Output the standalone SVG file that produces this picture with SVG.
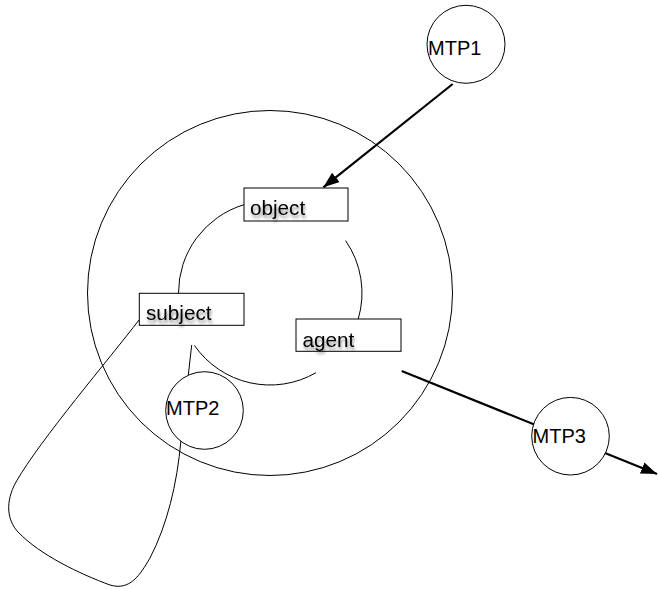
<svg xmlns="http://www.w3.org/2000/svg" width="658" height="589" viewBox="0 0 658 589">
  <defs>
    <marker id="arrow" markerUnits="userSpaceOnUse" markerWidth="18" markerHeight="14" refX="16" refY="6" orient="auto">
      <path d="M0,0 L16,6 L0,12 Z" fill="#000"/>
    </marker>
    <filter id="shadow" x="-20%" y="-30%" width="140%" height="180%">
      <feDropShadow dx="1" dy="3" stdDeviation="1.6" flood-color="#000" flood-opacity="0.45"/>
    </filter>
  </defs>
  <style>
    .line { fill: none; stroke: #000; stroke-width: 1; }
    .thick { fill: none; stroke: #000; stroke-width: 2.2; }
    .box { fill: #fff; stroke: #000; stroke-width: 1; }
    .mtp { fill: #fff; stroke: #000; stroke-width: 1; }
    .lbl { font-family: "Liberation Sans", Arial, sans-serif; font-size: 20px; fill: #000; }
    .boxlbl { font-size: 20.7px; filter: url(#shadow); }
  </style>

  <g id="outer-circle">
    <circle cx="270" cy="293" r="182.5" class="line"/>
  </g>

  <g id="connectors">
    <path class="line" d="M244,204.7 A92,92 0 0 0 178.5,293.5"/>
    <path class="line" d="M194.4,345.4 A92,92 0 0 0 316,372.7"/>
    <path class="line" d="M358.2,319.1 A92,92 0 0 0 345.6,240.6"/>
    <path class="line" d="M191.7,345 L188.3,375"/>
    <path class="line" d="M139,320 C110,358 40,440 16,482 C5,502 7,520 18,532 C40,555 80,574 110,585 C130,591 140,575 150,558 C167,525 177,485 181,440"/>
    <path class="thick" d="M452.7,84 L323.3,187.3" marker-end="url(#arrow)"/>
    <path class="thick" d="M401.7,371 L657,474" marker-end="url(#arrow)"/>
  </g>

  <g id="object">
    <rect x="244" y="188" width="104" height="33" class="box"/>
    <text x="250" y="215" class="lbl boxlbl">object</text>
  </g>

  <g id="subject">
    <rect x="139.3" y="293.3" width="104.7" height="32" class="box"/>
    <text x="146" y="320" class="lbl boxlbl">subject</text>
  </g>

  <g id="agent">
    <rect x="296" y="319" width="105" height="32.3" class="box"/>
    <text x="302.5" y="346.5" class="lbl boxlbl">agent</text>
  </g>

  <g id="MTP1">
    <circle cx="466" cy="44.3" r="39" class="mtp"/>
    <text x="428" y="55" class="lbl">MTP1</text>
  </g>

  <g id="MTP2">
    <circle cx="204.5" cy="410.5" r="38.8" class="mtp"/>
    <text x="166" y="415" class="lbl">MTP2</text>
  </g>

  <g id="MTP3">
    <circle cx="570.5" cy="436.2" r="38.8" class="mtp"/>
    <text x="532.5" y="443" class="lbl">MTP3</text>
  </g>
</svg>
